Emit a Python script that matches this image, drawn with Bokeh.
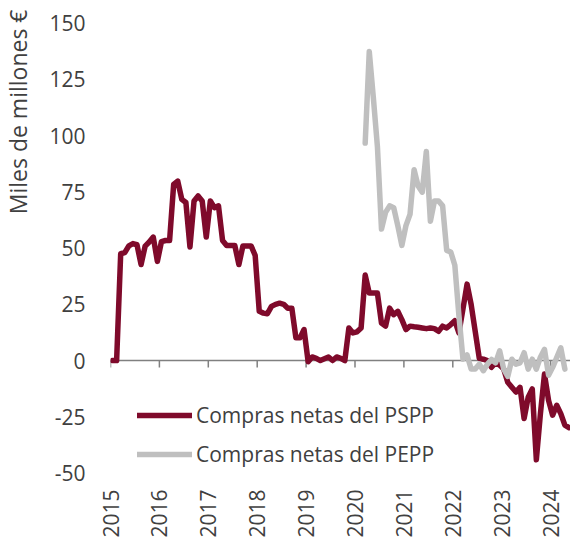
import math
from bokeh.plotting import figure
from bokeh.models import FixedTicker, Span, Legend, LegendItem, Title
from bokeh.embed import file_html
from bokeh.resources import INLINE

FONT = "Open Sans"
TEXT = "#404040"
PSPP_COLOR = "#7F0A2B"
PEPP_COLOR = "#BFBFBF"

# ---- data (monthly net purchases, bn EUR) ----
years = list(range(2015, 2025))
y_ticks = [-50, -25, 0, 25, 50, 75, 100, 125, 150]

pspp_start = (2015, 1)
pspp = [
    0, 0, 47.5, 48, 51, 52, 51.5, 42.7, 50.9, 52.7, 54.9, 44.1,          # 2015
    52.9, 53.4, 53.4, 78.3, 79.8, 71.7, 70.3, 50.5, 71, 73.2, 71, 54.9,  # 2016
    71, 68, 68.8, 53.4, 51.2, 51.2, 51.2, 42.7, 51, 51, 51, 46.8,        # 2017
    21.9, 21.1, 20.8, 24.1, 25, 25.5, 25, 23.3, 23.3, 10.1, 10.1, 13.8,  # 2018
    -0.5, 1.6, 1, 0, 0.8, 1.6, 0, 1.6, 1, 0, 14.5, 12.3,                 # 2019
    12.8, 14.5, 38, 30, 30, 30, 16.7, 15.3, 23.3, 20.4, 21.9, 18.2,      # 2020
    13.8, 15.3, 15, 14.8, 14.5, 14.2, 14.5, 14.2, 13, 15.3, 14.5, 16,    # 2021
    17.7, 12.3, 23, 34, 25, 13, 1, 0.6, 0, -3, -0.9, -2,                 # 2022
    -3.8, -9.7, -11.9, -14, -11.9, -25.8, -16.3, -12.6, -44.1, -23.6, -6, -17.7,  # 2023
    -24.3, -19.9, -23.6, -28.7, -29.8,                                   # 2024
]

pepp_start = (2020, 3)
pepp = [
    96.7, 137.4, 117, 95.2, 58.5, 65.9, 68.8, 68, 60, 51.2,              # 2020
    60, 65, 84.9, 77.6, 74.9, 93, 62, 71, 71, 68.8, 49, 48.3,            # 2021
    42.4, 20, 0.6, 2.5, -3.8, -3.8, -1.6, -4.5, -1.6, 0.5, -1, 4.3,      # 2022
    -3.8, -7, 0.6, -1.6, -1, 3.5, -3.8, 0.6, -3.8, 1.5, 5, -6.5,         # 2023
    -3, 1.3, 5.7, -3.8,                                                  # 2024
]


def month_x(start, n):
    y0, m0 = start
    return [y0 + (m0 - 1 + i + 0.5) / 12 for i in range(n)]


W, H = 570, 540
BL, BT, BR, BB = 110, 16, 0, 58
X0, X1 = 2015, 2024.407
Y0, Y1 = -52, 153

p = figure(
    width=W, height=H,
    x_range=(X0, X1), y_range=(Y0, Y1),
    output_backend="svg", toolbar_location=None,
    min_border_left=BL, min_border_top=BT, min_border_right=BR, min_border_bottom=BB,
)
p.outline_line_color = None
p.xgrid.grid_line_color = None
p.ygrid.grid_line_color = None
p.background_fill_color = "white"
p.border_fill_color = "white"

# x axis: labels only at the bottom
p.xaxis.ticker = FixedTicker(ticks=years)
p.xaxis.axis_line_color = None
p.xaxis.major_tick_line_color = None
p.xaxis.minor_tick_line_color = None
p.xaxis.major_tick_out = 0
p.xaxis.major_tick_in = 0
p.xaxis.major_label_orientation = math.pi / 2
p.xaxis.major_label_standoff = 12
p.xaxis.major_label_text_font = FONT
p.xaxis.major_label_text_font_size = "21px"
p.xaxis.major_label_text_color = TEXT

# y axis
p.yaxis.ticker = FixedTicker(ticks=y_ticks)
p.yaxis.major_label_overrides = {t: str(t) for t in y_ticks}
p.yaxis.axis_line_color = None
p.yaxis.major_tick_line_color = None
p.yaxis.minor_tick_line_color = None
p.yaxis.major_tick_out = 0
p.yaxis.major_tick_in = 0
p.yaxis.major_label_standoff = 25
p.yaxis.major_label_text_font = FONT
p.yaxis.major_label_text_font_size = "21px"
p.yaxis.major_label_text_color = TEXT
# invisible spacer label: pushes the axis title further out to the left
p.yaxis.axis_label = " "
p.yaxis.axis_label_text_font_size = "5px"
p.yaxis.axis_label_standoff = 2

ytitle = Title(text="Miles de millones €", align="right", text_font=FONT,
               text_font_size="23px", text_color=TEXT, text_font_style="normal",
               vertical_align="top", standoff=0, offset=-7)
p.add_layout(ytitle, "left")

# zero axis line with ticks
px_per_y = (H - BT - BB) / (Y1 - Y0)
zero = Span(location=0, dimension="width", line_color="#808080", line_width=1.5, level="underlay")
p.add_layout(zero)
tick_len = 7 / px_per_y
p.segment(x0=years, y0=[0] * len(years), x1=years, y1=[-tick_len] * len(years),
          line_color="#808080", line_width=1.5, level="underlay")

r1 = p.line(month_x(pspp_start, len(pspp)), pspp, line_color=PSPP_COLOR,
            line_width=5.5, line_join="round", line_cap="round")
r2 = p.line(month_x(pepp_start, len(pepp)), pepp, line_color=PEPP_COLOR,
            line_width=5.5, line_join="round", line_cap="round")

legend = Legend(
    items=[LegendItem(label="Compras netas del PSPP", renderers=[r1]),
           LegendItem(label="Compras netas del PEPP", renderers=[r2])],
    location=(27, 9), orientation="vertical",
    glyph_width=55, glyph_height=20, label_height=20, label_standoff=4,
    spacing=11, padding=0, margin=0,
    background_fill_alpha=0, border_line_alpha=0,
    label_text_font=FONT, label_text_font_size="21px", label_text_color=TEXT,
)
p.add_layout(legend)

open("out.html", "w").write(file_html(p, INLINE))
